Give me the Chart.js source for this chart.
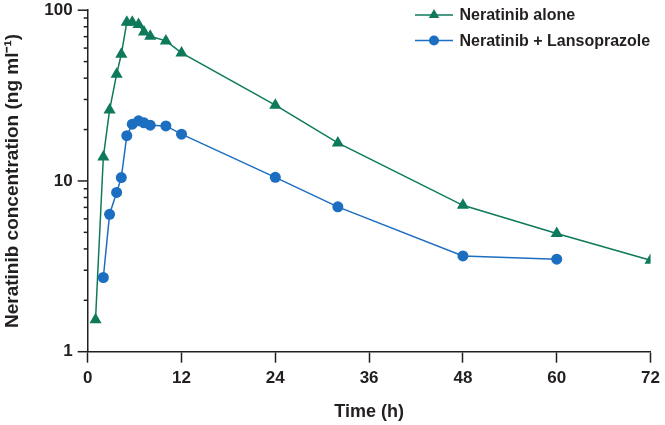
<!DOCTYPE html>
<html>
<head>
<meta charset="utf-8">
<script src="https://cdn.jsdelivr.net/npm/chart.js@4/dist/chart.umd.min.js"></script>
<style>
  html, body { margin: 0; padding: 0; background: #fff; }
  #wrap { width: 665px; height: 425px; position: relative; }
</style>
</head>
<body>
<div id="wrap"><canvas id="pk"></canvas></div>
<script>
// sampling times (h)
const timesH = [1, 2, 2.8, 3.7, 4.3, 5, 5.7, 6.5, 7.2, 8, 10, 12, 24, 32, 48, 60, 72];
// mean neratinib concentration (ng/ml)
const neratinibAlone = [1.54, 13.8, 26, 42.2, 55.2, 85, 85, 82.5, 74.6, 70.4, 66.1, 56.2, 27.8, 16.7, 7.2, 4.92, 3.43];
const withLansoprazole = [null, 2.72, 6.38, 8.56, 10.47, 18.4, 21.5, 22.5, 21.9, 21.2, 21.0, 18.8, 10.5, 7.05, 3.64, 3.48, null];
const xTicks = [0, 12, 24, 36, 48, 60, 72];
const yTicks = [1, 2, 3, 4, 5, 6, 7, 8, 9, 10, 20, 30, 40, 50, 60, 70, 80, 90, 100];
const yLabelled = [1, 10, 100];

const GREEN = '#0e7a5b';
const BLUE = '#1c6ec0';
const INK = '#231f20';
const FONT = '"Liberation Sans", Arial, sans-serif';

const toPoints = vals => timesH.map((t, i) => ({ x: t, y: vals[i] })).filter(p => p.y !== null);

// y tick marks: long for decades, short for the rest
const yTickMarks = {
  id: 'yTickMarks',
  afterDraw(chart) {
    const y = chart.scales.y;
    const ctx = chart.ctx;
    ctx.save();
    ctx.strokeStyle = INK;
    ctx.lineWidth = 1.5;
    y.ticks.forEach(t => {
      const py = y.getPixelForValue(t.value);
      const len = yLabelled.includes(t.value) ? 10 : 4;
      ctx.beginPath();
      ctx.moveTo(y.right - len, py);
      ctx.lineTo(y.right, py);
      ctx.stroke();
    });
    ctx.restore();
  }
};

// legend drawn inside the plot, line + marker
const insideLegend = {
  id: 'insideLegend',
  afterDraw(chart) {
    const ctx = chart.ctx;
    const x0 = 415, lineLen = 38, rowY = [15, 40.5];
    ctx.save();
    chart.data.datasets.forEach((ds, i) => {
      const yy = rowY[i];
      ctx.strokeStyle = ds.borderColor;
      ctx.lineWidth = 1.5;
      ctx.beginPath();
      ctx.moveTo(x0, yy);
      ctx.lineTo(x0 + lineLen, yy);
      ctx.stroke();
      ctx.fillStyle = ds.backgroundColor;
      ctx.strokeStyle = ds.borderColor;
      ctx.lineWidth = 1;
      Chart.helpers.drawPoint(ctx, { pointStyle: ds.pointStyle, radius: ds.pointStyle === 'triangle' ? 6 : 5, rotation: 0 }, x0 + lineLen / 2, yy);
      ctx.fillStyle = INK;
      ctx.font = 'bold 16px ' + FONT;
      ctx.textBaseline = 'middle';
      ctx.textAlign = 'left';
      ctx.fillText(ds.label, x0 + lineLen + 6.5, yy + 1);
    });
    ctx.restore();
  }
};

new Chart(document.getElementById('pk'), {
  type: 'line',
  data: {
    datasets: [
      {
        label: 'Neratinib alone',
        data: toPoints(neratinibAlone),
        borderColor: GREEN,
        backgroundColor: GREEN,
        borderWidth: 1.5,
        pointStyle: 'triangle',
        pointRadius: 7,
        pointBorderWidth: 0,
        tension: 0
      },
      {
        label: 'Neratinib + Lansoprazole',
        data: toPoints(withLansoprazole),
        borderColor: BLUE,
        backgroundColor: BLUE,
        borderWidth: 1.5,
        pointStyle: 'circle',
        pointRadius: 5.5,
        pointBorderWidth: 0,
        tension: 0
      }
    ]
  },
  options: {
    responsive: true,
    maintainAspectRatio: false,
    animation: false,
    layout: { padding: { left: 0, right: 12, top: 10, bottom: 0 } },
    plugins: {
      legend: { display: false },
      tooltip: { enabled: false }
    },
    scales: {
      x: {
        type: 'linear',
        min: 0,
        max: 72,
        afterBuildTicks: s => { s.ticks = xTicks.map(v => ({ value: v })); },
        afterFit: s => { s.height = 73.3; },
        border: { display: true, color: INK, width: 1.5 },
        grid: { drawOnChartArea: false, drawTicks: true, tickLength: 11, tickColor: INK, tickWidth: 1.5 },
        ticks: { color: INK, font: { family: FONT, size: 17, weight: 'bold' }, padding: 5, maxRotation: 0 },
        title: { display: true, text: 'Time (h)', color: INK, font: { family: FONT, size: 18, weight: 'bold' }, padding: { top: 0, bottom: 2 } }
      },
      y: {
        type: 'logarithmic',
        min: 1,
        max: 100,
        afterBuildTicks: s => { s.ticks = yTicks.map(v => ({ value: v, major: yLabelled.includes(v) })); },
        afterFit: s => { s.width = 87.7; },
        border: { display: true, color: INK, width: 1.5 },
        grid: { drawOnChartArea: false, drawTicks: true, tickLength: 15, tickColor: 'rgba(0,0,0,0)' },
        ticks: {
          color: INK,
          font: { family: FONT, size: 17, weight: 'bold' },
          padding: 0,
          autoSkip: false,
          callback: v => yLabelled.includes(v) ? String(v) : ''
        },
        title: { display: true, text: 'Neratinib concentration (ng ml\u207B\u00B9)', color: INK, font: { family: FONT, size: 19, weight: 'bold' }, padding: { top: 1, bottom: 0 } }
      }
    }
  },
  plugins: [yTickMarks, insideLegend]
});
</script>
</body>
</html>
